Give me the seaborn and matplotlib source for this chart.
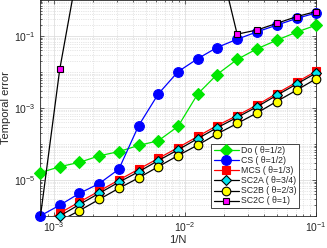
import matplotlib
matplotlib.use('Agg')
import matplotlib.pyplot as plt
import numpy as np
import pandas as pd
import seaborn as sns
from matplotlib.lines import Line2D
from matplotlib.ticker import LogLocator, NullFormatter, LogFormatterSciNotation, FixedLocator

# grid sizes N, 1/N on the x axis
N = [1280, 905, 640, 453, 320, 226, 160, 113, 80, 57, 40, 28, 20, 14, 10]

# log10 of the temporal error
do_err = [-4.80, -4.63, -4.51, -4.33, -4.21, -4.04, -3.91, -3.51, -2.61, -2.07, -1.65, -1.35, -1.12, -0.89, -0.70]
cs_err = [-6.00, -5.70, -5.37, -5.10, -4.70, -3.49, -2.61, -1.99, -1.63, -1.32, -1.09, -0.88, -0.70, -0.51, -0.36]
mcs_err = [-6.22, -5.92, -5.61, -5.31, -5.00, -4.70, -4.40, -4.10, -3.79, -3.49, -3.21, -2.91, -2.60, -2.28, -1.98]
sc2a_err = [-6.29, -6.00, -5.68, -5.37, -5.06, -4.77, -4.46, -4.16, -3.85, -3.55, -3.26, -2.96, -2.65, -2.33, -2.03]
sc2b_err = [-6.45, -6.14, -5.85, -5.54, -5.23, -4.94, -4.63, -4.32, -4.03, -3.72, -3.43, -3.13, -2.82, -2.50, -2.19]
sc2c_err = [-6.10, -1.93, 1.10, 1.80, 2.00, 2.10, 2.00, 1.80, 1.60, 1.37, -0.95, -0.83, -0.65, -0.46, -0.32]

labels = ['Do ( θ=1/2)', 'CS ( θ=1/2)', 'MCS ( θ=1/3)',
          'SC2A ( θ=3/4)', 'SC2B ( θ=2/3)', 'SC2C ( θ=1)']

styles = [
    dict(line='#00e600', marker='D', face='#00e600', edge='#00e600', ms=6.0),
    dict(line='#0000ff', marker='o', face='#0000ff', edge='#0000ff', ms=7.0),
    dict(line='#ff0000', marker='s', face='#ff0000', edge='#ff0000', ms=5.2),
    dict(line='black', marker='D', face='#00e5ee', edge='black', ms=5.0),
    dict(line='black', marker='o', face='#ffff00', edge='black', ms=6.2),
    dict(line='black', marker='s', face='#ff00ff', edge='black', ms=5.0),
]

YMIN, YMAX = 1e-6, 1.0


def build_df():
    rows = []
    inv_n = 1.0 / np.array(N, dtype=float)
    for lab, errs in zip(labels, [do_err, cs_err, mcs_err, sc2a_err, sc2b_err, sc2c_err]):
        for x, e in zip(inv_n, errs):
            rows.append({'invN': x, 'err': 10.0 ** e, 'scheme': lab})
    return pd.DataFrame(rows)


def main():
    sns.set_style('white')
    plt.rcParams['font.family'] = ['Liberation Sans', 'DejaVu Sans']
    plt.rcParams['mathtext.fontset'] = 'custom'
    plt.rcParams['mathtext.rm'] = 'Liberation Sans'

    df = build_df()
    fig = plt.figure(figsize=(3.27, 2.48), dpi=100)
    ax = fig.add_axes([40 / 327, 32 / 248, 276 / 327, 216 / 248])
    ax.set_xscale('log')
    ax.set_yscale('log')

    handles = []
    for i, (lab, st) in enumerate(zip(labels, styles)):
        sub = df[df['scheme'] == lab]
        sns.lineplot(data=sub, x='invN', y='err', ax=ax, color=st['line'], lw=0.9,
                     sort=False, estimator=None, legend=False, zorder=3 + 2 * i)
        inside = sub[(sub['err'] >= YMIN * 0.999) & (sub['err'] <= YMAX)]
        ax.plot(inside['invN'], inside['err'], ls='none', marker=st['marker'],
                ms=st['ms'], mfc=st['face'], mec=st['edge'], mew=0.8,
                clip_on=False, zorder=4 + 2 * i)
        handles.append(Line2D([], [], color=st['line'], lw=0.9, marker=st['marker'],
                              ms=st['ms'], mfc=st['face'], mec=st['edge'], mew=0.8))

    ax.set_xlim(1 / 1280, 0.1)
    ax.set_ylim(YMIN, YMAX)

    ax.xaxis.set_major_locator(LogLocator(base=10, numticks=10))
    ax.yaxis.set_major_locator(FixedLocator([1e-5, 1e-3, 1e-1]))
    ax.xaxis.set_minor_locator(LogLocator(base=10, subs=np.arange(2, 10), numticks=20))
    ax.yaxis.set_minor_locator(LogLocator(base=10, subs=np.arange(1, 10), numticks=20))
    ax.xaxis.set_minor_formatter(NullFormatter())
    ax.yaxis.set_minor_formatter(NullFormatter())
    ax.xaxis.set_major_formatter(LogFormatterSciNotation())
    ax.yaxis.set_major_formatter(LogFormatterSciNotation())

    ax.tick_params(which='both', direction='in', top=True, right=True, bottom=True, left=True,
                   labelsize=7.5, width=0.5, color='#262626')
    ax.tick_params(which='major', length=3, pad=3)
    ax.tick_params(which='minor', length=1.5)

    ax.grid(True, which='major', color='#d9d9d9', lw=0.5, ls='-')
    ax.grid(True, which='minor', color='#cfcfcf', lw=0.5, ls=':')
    ax.set_axisbelow(True)
    for sp in ax.spines.values():
        sp.set_color('#262626')
        sp.set_linewidth(0.6)

    ax.set_xlabel('1/N', fontsize=8, labelpad=1)
    ax.set_ylabel('Temporal error', fontsize=8, labelpad=2)

    leg = ax.legend(handles, labels, loc='lower right', bbox_to_anchor=(0.94, 0.037),
                    borderaxespad=0, fontsize=6.3, handlelength=2.8, labelspacing=0.12,
                    handleheight=0.5, handletextpad=0.3, borderpad=0.3,
                    fancybox=False, framealpha=1)
    leg.get_frame().set_edgecolor('#262626')
    leg.get_frame().set_linewidth(0.6)

    fig.savefig('out.png', dpi=100)


main()
